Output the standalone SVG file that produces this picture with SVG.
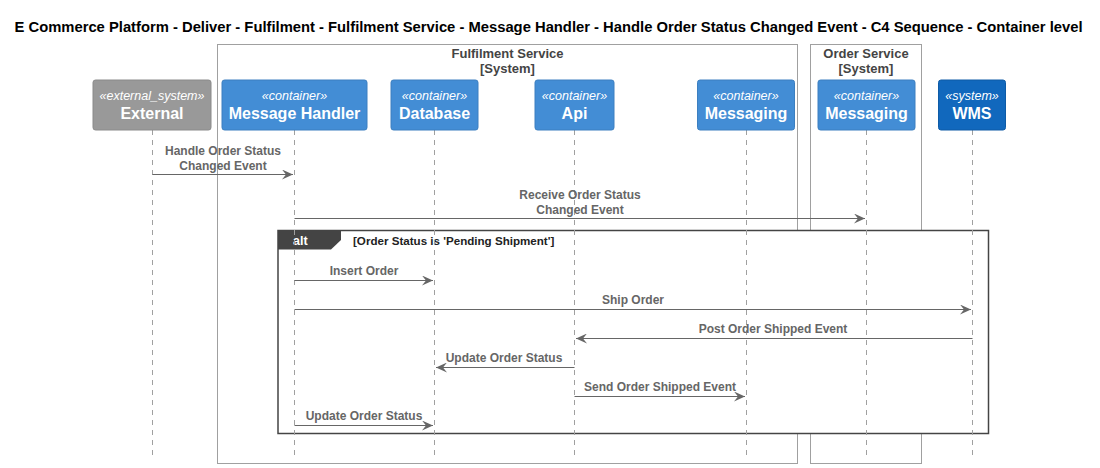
<svg xmlns="http://www.w3.org/2000/svg" width="1100" height="468" viewBox="0 0 1100 468">
<defs>
<style>
text{font-family:"Liberation Sans",Arial,sans-serif}
.title{font-size:14px;font-weight:bold;fill:#000}
.bnd{fill:none;stroke:#A0A0A0;stroke-width:1}
.bt{font-size:13px;font-weight:bold;fill:#444;text-anchor:middle}
.life{stroke:#A0A0A0;stroke-width:1;stroke-dasharray:5,5}
.st{font-size:12.5px;font-style:italic;fill:#fff;text-anchor:middle}
.nm{font-size:16px;font-weight:bold;fill:#fff;text-anchor:middle}
.msg{stroke:#666;stroke-width:1;fill:none}
.ml{font-size:12px;font-weight:bold;fill:#666;text-anchor:middle}
</style>
<marker id="ah" viewBox="0 0 12 10" refX="11" refY="5" markerWidth="12" markerHeight="10" markerUnits="userSpaceOnUse" orient="auto">
<polygon points="0,0 11,5 0,10 4,5" fill="#666"/>
</marker>
</defs>
<rect width="1100" height="468" fill="#fff"/>
<text class="title" x="548.5" y="31.5" text-anchor="middle" textLength="1068" lengthAdjust="spacingAndGlyphs">E Commerce Platform - Deliver - Fulfilment - Fulfilment Service - Message Handler - Handle Order Status Changed Event - C4 Sequence - Container level</text>

<g id="boundary-fulfilment">
<rect class="bnd" x="217.5" y="44.5" width="580" height="419"/>
<text class="bt" x="507.5" y="58">Fulfilment Service</text>
<text class="bt" x="507.5" y="73">[System]</text>
</g>
<g id="boundary-order">
<rect class="bnd" x="810.5" y="44.5" width="111" height="419"/>
<text class="bt" x="866" y="58">Order Service</text>
<text class="bt" x="866" y="73">[System]</text>
</g>

<g id="alt-frame">
<rect x="278" y="230.5" width="710.5" height="203" fill="#fff" stroke="#444" stroke-width="1.5"/>
<polygon points="278,230.5 341,230.5 341,240 331,249.5 278,249.5" fill="#444"/>
<text x="293" y="245" font-size="12.5" font-weight="bold" fill="#fff">alt</text>
<text x="353" y="245" font-size="11.6" font-weight="bold" fill="#222">[Order Status is 'Pending Shipment']</text>
</g>

<g id="lifelines">
<line class="life" x1="152.5" y1="130" x2="152.5" y2="456"/>
<line class="life" x1="294.5" y1="130" x2="294.5" y2="456"/>
<line class="life" x1="434.5" y1="130" x2="434.5" y2="456"/>
<line class="life" x1="574.5" y1="130" x2="574.5" y2="456"/>
<line class="life" x1="746.5" y1="130" x2="746.5" y2="456"/>
<line class="life" x1="866.5" y1="130" x2="866.5" y2="456"/>
<line class="life" x1="972.5" y1="130" x2="972.5" y2="456"/>
</g>

<g id="external">
<rect x="93" y="80" width="118" height="50" rx="2.5" fill="#999999" stroke="#8A8A8A"/>
<text class="st" x="152" y="100">«external_system»</text>
<text class="nm" x="152" y="119">External</text>
</g>
<g id="message-handler">
<rect x="222" y="80" width="145" height="50" rx="2.5" fill="#438DD5" stroke="#3C7FC0"/>
<text class="st" x="294.5" y="100">«container»</text>
<text class="nm" x="294.5" y="119">Message Handler</text>
</g>
<g id="database">
<rect x="391" y="80" width="87" height="50" rx="2.5" fill="#438DD5" stroke="#3C7FC0"/>
<text class="st" x="434.5" y="100">«container»</text>
<text class="nm" x="434.5" y="119">Database</text>
</g>
<g id="api">
<rect x="535" y="80" width="79" height="50" rx="2.5" fill="#438DD5" stroke="#3C7FC0"/>
<text class="st" x="574.5" y="100">«container»</text>
<text class="nm" x="574.5" y="119">Api</text>
</g>
<g id="fs-messaging">
<rect x="697.5" y="80" width="97" height="50" rx="2.5" fill="#438DD5" stroke="#3C7FC0"/>
<text class="st" x="746" y="100">«container»</text>
<text class="nm" x="746" y="119">Messaging</text>
</g>
<g id="os-messaging">
<rect x="818" y="80" width="97" height="50" rx="2.5" fill="#438DD5" stroke="#3C7FC0"/>
<text class="st" x="866.5" y="100">«container»</text>
<text class="nm" x="866.5" y="119">Messaging</text>
</g>
<g id="wms">
<rect x="938.5" y="80" width="67" height="50" rx="2.5" fill="#1168BD" stroke="#0E5BA6"/>
<text class="st" x="972" y="100">«system»</text>
<text class="nm" x="972" y="119">WMS</text>
</g>

<g id="connectors">
<line class="msg" x1="152.5" y1="174.5" x2="293" y2="174.5" marker-end="url(#ah)"/>
<text class="ml" x="223" y="155">Handle Order Status</text>
<text class="ml" x="223" y="170">Changed Event</text>

<line class="msg" x1="294.5" y1="218.5" x2="865" y2="218.5" marker-end="url(#ah)"/>
<text class="ml" x="580" y="199">Receive Order Status</text>
<text class="ml" x="580" y="214">Changed Event</text>

<line class="msg" x1="294.5" y1="280.5" x2="433" y2="280.5" marker-end="url(#ah)"/>
<text class="ml" x="364" y="275">Insert Order</text>

<line class="msg" x1="294.5" y1="309.5" x2="971" y2="309.5" marker-end="url(#ah)"/>
<text class="ml" x="633" y="304">Ship Order</text>

<line class="msg" x1="972.5" y1="338.5" x2="576" y2="338.5" marker-end="url(#ah)"/>
<text class="ml" x="773" y="333">Post Order Shipped Event</text>

<line class="msg" x1="574.5" y1="367.5" x2="436" y2="367.5" marker-end="url(#ah)"/>
<text class="ml" x="504" y="362">Update Order Status</text>

<line class="msg" x1="574.5" y1="396.5" x2="745" y2="396.5" marker-end="url(#ah)"/>
<text class="ml" x="660" y="391">Send Order Shipped Event</text>

<line class="msg" x1="294.5" y1="425.5" x2="433" y2="425.5" marker-end="url(#ah)"/>
<text class="ml" x="364" y="420">Update Order Status</text>
</g>
</svg>
